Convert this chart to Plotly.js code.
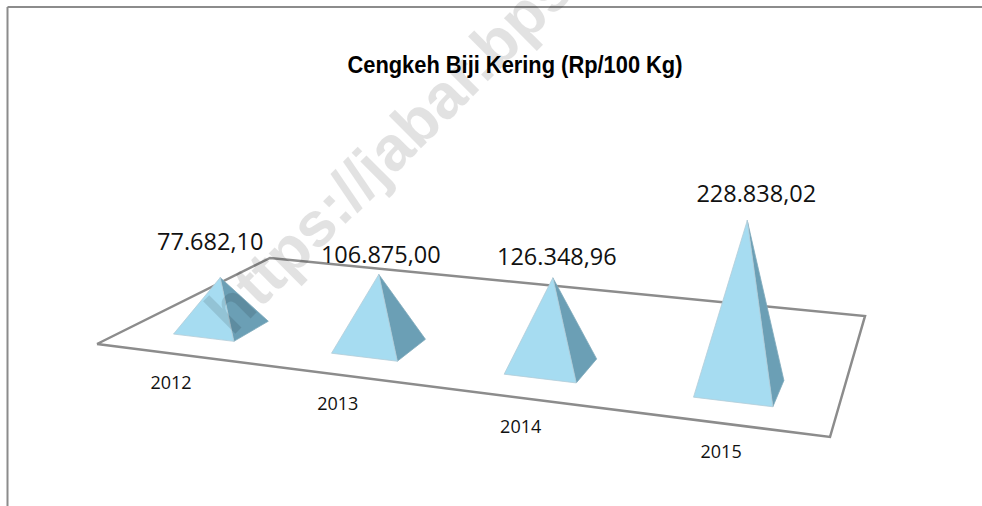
<!DOCTYPE html>
<html><head><meta charset="utf-8">
<script src="https://cdn.plot.ly/plotly-3.0.1.min.js"></script>
<style>html,body{margin:0;padding:0;background:#fff}#c{width:982px;height:506px}</style>
</head><body><div id="c"></div>
<script>
const years = ['2012','2013','2014','2015'];
const values = [77682.10, 106875.00, 126348.96, 228838.02];
const valueLabels = ['77.682,10','106.875,00','126.348,96','228.838,02'];
const titleText = 'Cengkeh Biji Kering (Rp/100 Kg)';
const watermark = 'https://jabar.bps.go.id';

// Floor-plane perspective scale: unit square (u along categories, v in depth) -> page pixels
const floorCorners = [[97,344],[830,437],[865,316],[270,258]];
function makeHomography(c){
  const [p0,p1,p2,p3]=c;
  const dx1=p1[0]-p2[0],dx2=p3[0]-p2[0],sx=p0[0]-p1[0]+p2[0]-p3[0];
  const dy1=p1[1]-p2[1],dy2=p3[1]-p2[1],sy=p0[1]-p1[1]+p2[1]-p3[1];
  const det=dx1*dy2-dx2*dy1;
  const g=(sx*dy2-dx2*sy)/det,h=(dx1*sy-sx*dy1)/det;
  const a=p1[0]-p0[0]+g*p1[0],b=p3[0]-p0[0]+h*p3[0],c0=p0[0];
  const d=p1[1]-p0[1]+g*p1[1],e=p3[1]-p0[1]+h*p3[1],f=p0[1];
  return (u,v,z=0)=>{
    const w=g*u+h*v+1;
    const x=(a*u+b*v+c0)/w, zp=z/w;
    return [x+zp*(x-420)*0.000145,(d*u+e*v+f)/w - zp];
  };
}
const proj=makeHomography(floorCorners);
const halfU=0.049, halfV=0.10, centreV=0.25, zPerValue=0.000668;
const catU=i=>(i+0.5)/4;
const labelDx=[-10,2,4,9], labelDy=[-33,-17,-19,-24];
const yearU=[0.188,0.42,0.655,0.89], yearV=[-0.215,-0.2,-0.19,-0.18];

const traces=[];
function poly(pts,fill,line,lw){
  traces.push({type:'scatter',mode:'lines',x:pts.map(p=>p[0]),y:pts.map(p=>p[1]),
    fill:fill?'toself':'none',fillcolor:fill||undefined,
    line:{color:line,width:lw},hoverinfo:'skip',showlegend:false});
}
poly([[0,0],[1,0],[1,1],[0,1],[0,0]].map(q=>proj(q[0],q[1])),null,'#8c8c8c',2.5);
const apexes=[];
years.forEach((y,i)=>{
  const u=catU(i);
  const fl=proj(u-halfU,centreV-halfV),fr=proj(u+halfU,centreV-halfV),br=proj(u+halfU,centreV+halfV);
  const ap=proj(u,centreV,values[i]*zPerValue);
  apexes.push(ap);
  poly([fr,br,ap,fr],'#6b9fb5','#7fa9bb',0.8);
  poly([fl,fr,ap,fl],'#a6dcf1','#b4cdd8',0.8);
});
traces.push({type:'scatter',mode:'text',x:apexes.map((p,i)=>p[0]+labelDx[i]),y:apexes.map((p,i)=>p[1]+labelDy[i]),
  text:valueLabels,textposition:'middle center',textfont:{family:'Open Sans',size:23.5,color:'#111'},
  hoverinfo:'skip',showlegend:false});
const yl=years.map((y,i)=>proj(yearU[i],yearV[i]));
traces.push({type:'scatter',mode:'text',x:yl.map(p=>p[0]),y:yl.map(p=>p[1]),text:years,
  textposition:'middle center',textfont:{family:'Open Sans',size:18,color:'#111'},
  hoverinfo:'skip',showlegend:false});

const layout={
  width:982,height:506,margin:{l:0,r:0,t:0,b:0},paper_bgcolor:'#fff',plot_bgcolor:'#fff',showlegend:false,
  title:{text:titleText,x:515/982,xanchor:'center',y:1-65/506,yanchor:'middle',
    font:{family:'Liberation Sans',size:24,color:'#000',weight:'bold'}},
  xaxis:{range:[0,982],visible:false,fixedrange:true},
  yaxis:{range:[506,0],visible:false,fixedrange:true},
  shapes:[
    {type:'line',xref:'x',yref:'y',x0:7.5,y0:7,x1:982,y1:7,line:{color:'#8c8c8c',width:2}},
    {type:'line',xref:'x',yref:'y',x0:7.5,y0:7,x1:7.5,y1:506,line:{color:'#8c8c8c',width:2}}
  ],
  annotations:[{text:watermark,xref:'x',yref:'y',x:448,y:90,textangle:-45,showarrow:false,
    xanchor:'center',yanchor:'middle',opacity:0.11,
    font:{family:'Liberation Sans',size:63,color:'#000',weight:'bold'}}]
};
Plotly.newPlot('c',traces,layout,{displayModeBar:false,staticPlot:true}).then(()=>{
  const t=document.querySelector('.gtitle');
  if(t){t.setAttribute('textLength','335');t.setAttribute('lengthAdjust','spacingAndGlyphs');}
});
</script></body></html>
